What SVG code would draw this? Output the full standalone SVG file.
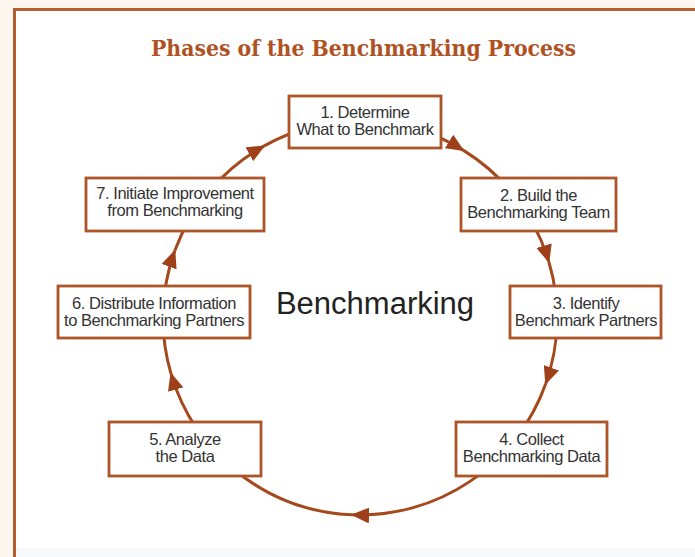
<svg xmlns="http://www.w3.org/2000/svg" width="695" height="557" viewBox="0 0 695 557">
  <style>
    .frame { fill: #ffffff; stroke: #b3602e; stroke-width: 3; }
    .box rect { fill: #ffffff; stroke: #ad5529; stroke-width: 2.8; }
    .box text { font-family: "Liberation Sans", Arial, sans-serif; font-size: 16.5px; letter-spacing: -0.45px; fill: #333333; text-anchor: middle; }
    .title { font-family: "DejaVu Serif", "Liberation Serif", serif; font-weight: bold; font-size: 22px; fill: #b0521f; text-anchor: middle; }
    .center { font-family: "Liberation Sans", Arial, sans-serif; font-size: 31px; fill: #222222; text-anchor: middle; }
    .conn path { fill: none; stroke: #a4481d; stroke-width: 3; marker-end: url(#tri); }
  </style>
  <defs>
    <marker id="tri" markerUnits="userSpaceOnUse" viewBox="0 0 18 16" refX="17" refY="8" markerWidth="18" markerHeight="16" orient="auto">
      <path d="M0,0 L18,8 L0,16 Z" fill="#a0401a"/>
    </marker>
  </defs>

  <!-- page background and framed panel -->
  <rect x="0" y="0" width="695" height="557" fill="#fdf6ee"/>
  <rect class="frame" x="14.5" y="9.5" width="700" height="560"/>
  <rect x="16" y="548" width="679" height="9" fill="#f6f9fb"/>

  <text class="title" x="363.5" y="56" textLength="425" lengthAdjust="spacingAndGlyphs">Phases of the Benchmarking Process</text>

  <!-- cycle of connectors: arcs of one circle, each ending in an arrowhead -->
  <g id="connectors" class="conn">
    <path d="M264.2,145.9 A197,197 0 0 1 463.5,150.4"/>
    <path d="M463.5,150.4 A197,197 0 0 1 548.9,262.0"/>
    <path d="M548.9,262.0 A197,197 0 0 1 545.7,383.8"/>
    <path d="M545.7,383.8 A197,197 0 0 1 352.1,514.8"/>
    <path d="M352.1,514.8 A197,197 0 0 1 170.9,373.3"/>
    <path d="M170.9,373.3 A197,197 0 0 1 174.9,250.6"/>
    <path d="M174.9,250.6 A197,197 0 0 1 264.2,145.9"/>
  </g>

  <text class="center" x="375" y="314">Benchmarking</text>

  <g id="phase1" class="box">
    <rect x="289" y="96" width="152" height="52"/>
    <text x="365" y="118">1. Determine</text>
    <text x="365" y="135">What to Benchmark</text>
  </g>
  <g id="phase2" class="box">
    <rect x="461" y="178" width="155" height="53"/>
    <text x="538.5" y="200.5">2. Build the</text>
    <text x="538.5" y="217.5">Benchmarking Team</text>
  </g>
  <g id="phase3" class="box">
    <rect x="510" y="286" width="151" height="52"/>
    <text x="586" y="309">3. Identify</text>
    <text x="586" y="326">Benchmark Partners</text>
  </g>
  <g id="phase4" class="box">
    <rect x="456" y="422" width="151" height="54"/>
    <text x="531.5" y="445">4. Collect</text>
    <text x="531.5" y="462">Benchmarking Data</text>
  </g>
  <g id="phase5" class="box">
    <rect x="109" y="422" width="152" height="54"/>
    <text x="185" y="445">5. Analyze</text>
    <text x="185" y="462">the Data</text>
  </g>
  <g id="phase6" class="box">
    <rect x="58" y="286" width="192" height="52"/>
    <text x="154" y="308.5">6. Distribute Information</text>
    <text x="154" y="325.5">to Benchmarking Partners</text>
  </g>
  <g id="phase7" class="box">
    <rect x="86" y="178" width="178" height="53"/>
    <text x="175" y="199">7. Initiate Improvement</text>
    <text x="175" y="216">from Benchmarking</text>
  </g>
</svg>
